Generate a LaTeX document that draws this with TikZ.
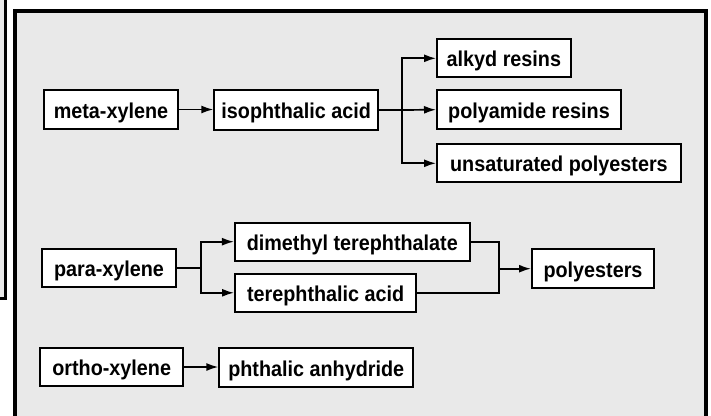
\documentclass[tikz,border=0pt]{standalone}
\usepackage{fontspec}
\setmainfont{Liberation Sans}[FakeStretch=0.92]
\usetikzlibrary{arrows.meta}
\definecolor{bggray}{RGB}{233,233,233}
\begin{document}
\begin{tikzpicture}[x=1pt,y=-1pt,
  box/.style={draw=black,fill=white,line width=2pt,inner sep=0pt,
    text height=17pt,text depth=0pt,
    font=\fontsize{21.5}{24}\selectfont\bfseries,anchor=center},
  arr/.style={line width=1.7pt,-{Latex[length=12pt,width=8pt]}},
  conn/.style={line width=1.7pt}]
\useasboundingbox (0,0) rectangle (711,415);
\fill[white] (0,0) rectangle (711,415);
% stray left frame
\draw[fill=bggray,line width=2.4pt] (-20,-20) rectangle (5.5,298.5);
% main frame
\draw[fill=bggray,line width=3.8pt] (14.6,11.3) rectangle (706.1,430);
% nodes
\node[box,minimum width=134pt,minimum height=39pt] (meta) at (111,109.5) {meta-xylene};
\node[box,minimum width=163.7pt,minimum height=39.4pt] (iso) at (296.2,110) {isophthalic acid};
\node[box,minimum width=133.7pt,minimum height=38pt] (alkyd) at (503.9,58.3) {alkyd resins};
\node[box,minimum width=184pt,minimum height=38.7pt] (pa) at (529,109.7) {polyamide resins};
\node[box,minimum width=243.7pt,minimum height=38pt] (unsat) at (558.9,163.3) {unsaturated polyesters};
\node[box,minimum width=134pt,minimum height=38.6pt] (para) at (109,268) {para-xylene};
\node[box,minimum width=234.7pt,minimum height=38pt] (dmt) at (352.3,241.7) {dimethyl terephthalate};
\node[box,minimum width=181.3pt,minimum height=38.3pt] (tpa) at (325.7,292.8) {terephthalic acid};
\node[box,minimum width=122pt,minimum height=38.7pt] (poly) at (593,268.7) {polyesters};
\node[box,minimum width=142.7pt,minimum height=38.6pt] (ortho) at (111.7,367) {ortho-xylene};
\node[box,minimum width=193.7pt,minimum height=38.4pt] (pan) at (316.2,367.5) {phthalic anhydride};
% connectors
\draw[arr] (meta.east) -- (iso.west |- meta.east);
\coordinate (b1) at (402.3,110);
\draw[conn] (iso.east) -- (b1);
\draw[arr] (b1) |- (alkyd.west);
\draw[arr] (b1) -- (pa.west);
\draw[arr] (b1) |- (unsat.west);
\coordinate (b2) at (201,268);
\draw[conn] (para.east) -- (b2);
\draw[arr] (b2) |- (dmt.west);
\draw[arr] (b2) |- (tpa.west);
\coordinate (b3) at (498.7,268.7);
\draw[conn] (dmt.east) -| (b3);
\draw[conn] (tpa.east) -| (b3);
\draw[arr] (b3) -- (poly.west);
\draw[arr] (ortho.east) -- (pan.west |- ortho.east);
\end{tikzpicture}
\end{document}
